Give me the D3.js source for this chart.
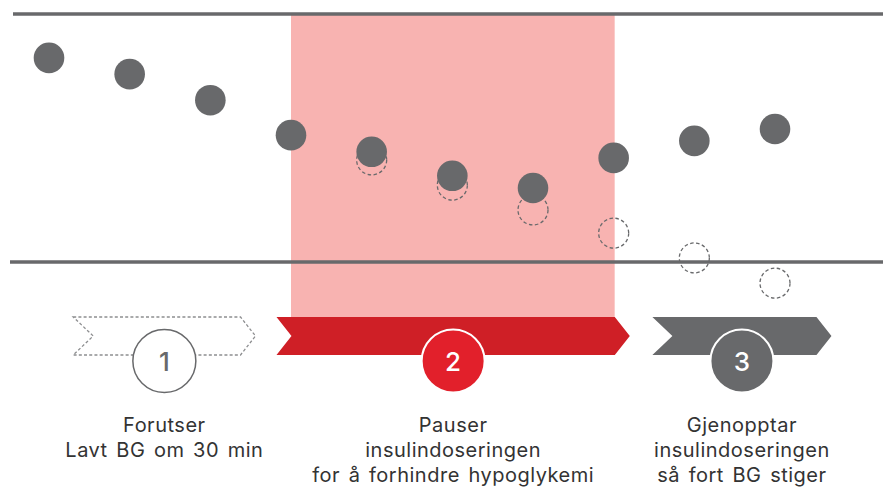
<!DOCTYPE html>
<html>
<head>
<meta charset="utf-8">
<script src="https://cdn.jsdelivr.net/npm/d3@7"></script>
<style>
  html,body{margin:0;padding:0;background:#fff;}
  svg{display:block;font-family:Inter,"Noto Sans",sans-serif;}
</style>
</head>
<body>
<div id="chart"></div>
<script>
"use strict";
// data: minutes, BG (mmol/L)
const times = [0, 5, 10, 15, 20, 25, 30, 35, 40, 45];
const bgActual = [8.92, 8.52, 7.88, 7.02, 6.61, 6.02, 5.72, 6.46, 6.88, 7.17];
const bgPredicted = [null, null, null, null, 6.41, 5.79, 5.18, 4.61, 4.0, 3.38];
const limits = [10.0, 3.9];          // upper / lower line
const pauseRange = [15, 35];         // insulin paused
const phaseRanges = [[1.5, 12.8], [14.1, 36.0], [37.4, 48.5]];
const phaseNumbers = ["1", "2", "3"];
const phaseLabels = [
  ["Forutser", "Lavt BG om 30 min"],
  ["Pauser", "insulindoseringen", "for å forhindre hypoglykemi"],
  ["Gjenopptar", "insulindoseringen", "så fort BG stiger"]
];

const W = 883, H = 488;
const GREY = "#68696b", PINK = "#f8b3b1", RED = "#cf1f26", RED2 = "#e2202b";

const x = d3.scaleLinear().domain([0, 45]).range([49, 775]);
const y = d3.scaleLinear().domain([limits[1], limits[0]]).range([262, 14]);

const svg = d3.select("#chart").append("svg").attr("width", W).attr("height", H).attr("viewBox", `0 0 ${W} ${H}`);

// pause band
svg.append("rect")
  .attr("x", x(pauseRange[0])).attr("y", y(limits[0]))
  .attr("width", x(pauseRange[1]) - x(pauseRange[0]) + 1).attr("height", 320 - y(limits[0]))
  .attr("fill", PINK);

// limit lines
svg.selectAll("line.lim").data(limits).join("line").attr("class", "lim")
  .attr("x1", (d, i) => i ? 10 : 13).attr("x2", W)
  .attr("y1", (d) => y(d)).attr("y2", (d) => y(d))
  .attr("stroke", GREY).attr("stroke-width", 3.5);

// predicted (dashed) then actual
const pred = times.map((t, i) => ({ t, v: bgPredicted[i] })).filter((d) => d.v != null);
svg.selectAll("circle.pred").data(pred).join("circle").attr("class", "pred")
  .attr("cx", (d) => x(d.t)).attr("cy", (d) => y(d.v)).attr("r", 15)
  .attr("fill", "none").attr("stroke", GREY).attr("stroke-width", 1.3).attr("stroke-dasharray", "3.5 2.5");

svg.selectAll("circle.act").data(times.map((t, i) => ({ t, v: bgActual[i] }))).join("circle").attr("class", "act")
  .attr("cx", (d) => x(d.t)).attr("cy", (d) => y(d.v)).attr("r", 15.3)
  .attr("fill", GREY);

// phase banners
const bTop = 317, bBot = 355, bMid = (bTop + bBot) / 2;
const notch = [20, 15, 20], tip = 15;
const chevron = (x0, x1, n) => `M${x0},${bTop} L${x1 - tip},${bTop} L${x1},${bMid} L${x1 - tip},${bBot} L${x0},${bBot} L${x0 + n},${bMid} Z`;
const bannerFill = ["#fff", RED, GREY];
const circFill = ["#fff", RED2, GREY];
const numFill = [GREY, "#fff", "#fff"];

phaseRanges.forEach((r, i) => {
  const x0 = x(r[0]), x1 = x(r[1]), cx = (x0 + x1) / 2;
  const p = svg.append("path").attr("d", chevron(x0, x1, notch[i])).attr("fill", bannerFill[i]);
  if (i === 0) p.attr("stroke", "#8d8e90").attr("stroke-width", 1.3).attr("stroke-dasharray", "3 2.2");
  svg.append("circle").attr("cx", cx).attr("cy", 361).attr("r", 31.5)
    .attr("fill", circFill[i]).attr("stroke", i === 0 ? GREY : "#fff").attr("stroke-width", i === 0 ? 1.5 : 2);
  svg.append("text").attr("x", cx).attr("y", 370.5).attr("text-anchor", "middle")
    .attr("font-size", 26).attr("font-weight", 500).attr("fill", numFill[i]).text(phaseNumbers[i]);
  const t = svg.append("text").attr("text-anchor", "middle").attr("font-size", 20)
    .attr("letter-spacing", 0.5).attr("word-spacing", 2.5).attr("fill", "#333");
  phaseLabels[i].forEach((s, k) => t.append("tspan").attr("x", cx).attr("y", 432 + k * 25).text(s));
});
</script>
</body>
</html>
